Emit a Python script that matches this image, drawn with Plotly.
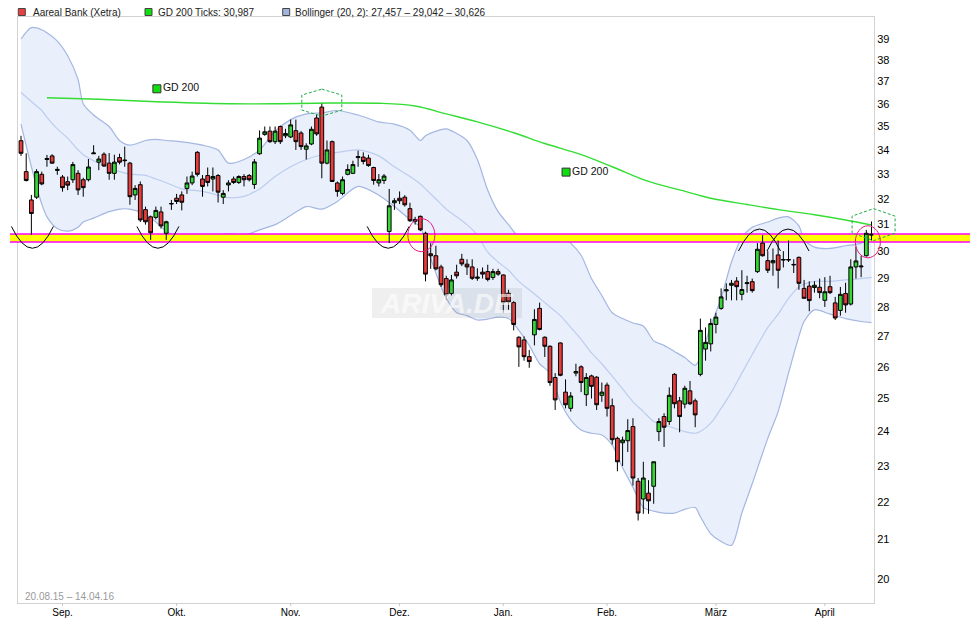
import numpy as np
import pandas as pd
import plotly.graph_objects as go

# ---------------- data ----------------
HOLIDAYS = ["2015-12-24", "2015-12-25", "2015-12-31", "2016-01-01", "2016-03-25", "2016-03-28"]
DATES = [d for d in pd.bdate_range("2015-08-20", "2016-04-14") if d.strftime("%Y-%m-%d") not in HOLIDAYS]

OPEN = [34.39, 33.10, 31.96, 32.07, 32.99, 33.60, 33.75, 33.15, 32.88, 32.69,
        32.77, 33.03, 32.77, 32.77, 33.84, 33.49, 33.82, 33.45, 33.03, 33.68,
        33.55, 33.45, 32.16, 32.57, 31.58, 31.30, 31.28, 31.49, 30.67, 31.80,
        32.03, 32.16, 32.42, 32.64, 33.90, 32.80, 32.94, 32.80, 32.94, 32.07,
        32.56, 32.80, 32.66, 32.90, 32.94, 32.58, 33.84, 34.66, 34.80, 34.35,
        35.00, 34.60, 34.55, 34.82, 34.72, 34.03, 34.25, 35.37, 35.85, 33.45,
        34.35, 32.64, 32.22, 32.99, 33.03, 33.68, 33.70, 33.66, 33.27, 32.64,
        32.74, 30.74, 31.85, 32.03, 32.07, 31.62, 31.13, 31.32, 30.67, 29.90,
        29.83, 29.42, 29.00, 28.47, 29.23, 29.70, 29.52, 29.42, 29.01, 29.23,
        29.25, 29.04, 29.25, 29.13, 28.48, 28.15, 26.97, 26.88, 26.33, 27.05,
        27.95, 26.97, 26.67, 25.66, 26.78, 25.20, 24.70, 25.80, 26.00, 25.12,
        25.71, 25.67, 25.10, 25.42, 24.78, 23.80, 23.67, 23.73, 24.15, 22.57,
        22.08, 22.24, 22.43, 24.00, 24.45, 24.30, 25.76, 24.93, 24.83, 25.24,
        24.93, 25.76, 26.58, 26.75, 27.40, 27.95, 28.56, 28.76, 28.91, 28.44,
        28.82, 28.89, 29.25, 30.30, 29.65, 29.57, 29.86, 29.67, 29.67, 29.49,
        29.77, 28.65, 28.73, 28.68, 28.69, 28.23, 28.71, 28.14, 27.88, 28.47,
        28.10, 29.42, 29.42, 29.83, 30.60]

HIGH = [34.60, 33.86, 32.16, 33.20, 33.10, 33.79, 33.82, 33.30, 32.96, 32.90,
        33.50, 33.16, 32.85, 33.62, 34.20, 33.75, 33.90, 33.87, 33.80, 33.84,
        34.14, 33.50, 32.55, 32.70, 31.70, 31.35, 31.70, 31.70, 31.15, 31.96,
        32.20, 32.30, 32.90, 33.10, 33.95, 32.96, 33.27, 33.27, 33.00, 32.35,
        32.75, 32.90, 32.95, 33.00, 33.00, 33.62, 34.83, 35.00, 35.00, 35.00,
        35.04, 34.90, 35.30, 35.30, 34.80, 34.28, 35.00, 35.50, 36.00, 34.40,
        34.40, 32.70, 32.90, 33.40, 33.55, 33.97, 33.90, 33.80, 33.30, 33.00,
        33.00, 32.40, 32.03, 32.30, 32.15, 31.85, 31.30, 31.35, 30.73, 30.30,
        30.20, 29.50, 29.10, 29.13, 29.50, 29.90, 29.70, 29.70, 29.37, 29.40,
        29.50, 29.35, 29.35, 29.15, 28.60, 28.20, 27.00, 27.00, 26.55, 27.92,
        28.15, 27.00, 26.70, 25.80, 26.80, 25.60, 25.20, 26.10, 26.05, 25.80,
        25.75, 25.70, 25.50, 25.50, 25.00, 23.85, 23.85, 24.37, 24.40, 22.66,
        23.12, 22.60, 23.12, 24.40, 24.55, 25.35, 25.80, 25.05, 25.40, 25.55,
        25.00, 27.60, 27.30, 27.60, 27.80, 28.65, 28.83, 28.95, 29.05, 29.30,
        29.10, 29.00, 30.30, 30.60, 30.00, 30.10, 30.40, 30.00, 30.40, 29.70,
        29.80, 28.95, 28.90, 28.90, 29.00, 29.05, 29.10, 28.35, 28.70, 28.85,
        29.70, 30.17, 29.83, 30.80, 31.12]

LOW = [33.75, 32.70, 30.61, 32.00, 32.55, 33.30, 33.42, 32.97, 32.29, 32.35,
       32.64, 32.16, 32.09, 32.70, 33.84, 33.16, 33.30, 32.77, 32.77, 33.40,
       33.30, 31.77, 31.96, 31.10, 31.00, 30.42, 31.20, 30.85, 30.42, 31.57,
       31.80, 31.55, 32.20, 32.55, 32.90, 32.09, 32.50, 32.30, 31.86, 31.80,
       32.30, 32.60, 32.60, 32.50, 32.70, 32.40, 33.80, 34.60, 34.30, 34.25,
       34.25, 34.50, 34.50, 34.00, 34.00, 33.60, 34.20, 34.60, 32.83, 33.40,
       32.70, 32.09, 32.15, 32.95, 33.00, 33.30, 33.40, 33.30, 32.57, 32.50,
       32.60, 30.30, 31.57, 31.80, 31.70, 31.10, 31.00, 30.75, 28.90, 29.35,
       29.30, 28.70, 28.24, 28.40, 29.00, 29.45, 29.13, 28.95, 28.92, 29.00,
       28.90, 28.95, 29.10, 27.80, 27.90, 27.20, 26.00, 26.20, 25.97, 26.70,
       27.20, 26.32, 25.40, 24.65, 25.70, 24.70, 24.60, 25.70, 25.20, 24.77,
       25.00, 24.65, 24.90, 24.45, 23.62, 22.85, 23.00, 23.40, 22.45, 21.50,
       21.68, 21.68, 21.95, 23.72, 23.55, 24.20, 24.70, 23.98, 24.70, 24.80,
       24.13, 25.70, 26.20, 26.50, 27.10, 27.90, 28.23, 28.23, 28.23, 28.23,
       28.50, 28.50, 29.20, 29.80, 29.20, 29.10, 28.65, 29.40, 29.60, 29.20,
       28.60, 28.30, 27.85, 28.50, 28.30, 28.00, 28.45, 27.55, 27.70, 27.80,
       28.05, 29.00, 29.05, 29.80, 30.40]

CLOSE = [33.86, 32.74, 31.43, 33.10, 32.60, 33.64, 33.45, 33.19, 32.45, 32.55,
         33.39, 32.36, 32.45, 33.29, 33.87, 33.62, 33.33, 33.03, 33.49, 33.49,
         33.57, 32.09, 32.42, 31.18, 31.11, 30.69, 31.55, 30.95, 31.11, 31.82,
         31.90, 31.87, 32.64, 32.92, 32.99, 32.50, 32.66, 32.90, 32.27, 32.22,
         32.64, 32.66, 32.90, 32.77, 32.77, 33.50, 34.50, 34.77, 34.35, 34.80,
         34.35, 34.70, 35.07, 34.35, 34.14, 34.17, 34.88, 34.68, 33.45, 34.00,
         32.70, 32.30, 32.77, 33.19, 33.39, 33.72, 33.52, 33.35, 32.74, 32.77,
         32.92, 31.73, 31.93, 31.93, 31.77, 31.15, 31.20, 30.80, 29.16, 29.83,
         29.35, 28.78, 28.42, 28.95, 29.10, 29.53, 29.42, 29.01, 29.05, 29.16,
         28.97, 29.25, 29.16, 28.15, 28.17, 27.40, 26.65, 26.33, 26.17, 27.57,
         27.23, 26.67, 25.50, 24.96, 25.73, 24.81, 25.08, 25.85, 25.50, 25.66,
         25.38, 24.81, 25.20, 24.70, 23.76, 23.12, 23.75, 24.03, 22.66, 21.70,
         22.66, 22.03, 23.12, 24.30, 24.13, 25.10, 24.84, 24.45, 25.32, 24.84,
         24.50, 27.20, 26.80, 27.43, 27.65, 28.35, 28.60, 28.83, 28.71, 28.61,
         28.85, 28.57, 30.07, 29.83, 29.30, 29.65, 29.30, 29.69, 29.69, 29.51,
         28.83, 28.30, 28.22, 28.76, 28.50, 28.53, 28.50, 27.62, 28.44, 28.07,
         29.42, 29.64, 29.45, 30.67, 30.63]

# Bollinger (20,2) read at sample trading-day positions
BB_IDX = [0, 2, 4, 5, 7, 9, 11, 12, 14, 17, 19, 21, 24, 26, 28, 31, 35, 38, 40, 43,
          46, 49, 52, 55, 58, 61, 65, 69, 72, 75, 77, 78, 80, 82, 84, 86, 88, 90, 92, 94,
          96, 98, 100, 102, 104, 106, 108, 110, 112, 114, 116, 118, 120, 122, 124, 126, 128, 130, 131, 133,
          135, 137, 139, 141, 144, 146, 148, 150, 151, 153, 156, 159, 162, 164]
BB_UP = [39.00, 39.55, 39.45, 39.30, 38.90, 38.20, 37.10, 36.00, 35.50, 35.00, 34.40, 34.20, 34.40, 34.45, 34.40, 34.34, 34.20, 34.00, 33.45, 33.60,
         34.00, 34.80, 35.30, 35.55, 35.60, 35.70, 35.50, 35.20, 35.10, 34.84, 34.40, 34.60, 34.80, 34.90, 34.70, 34.40, 33.60, 32.35, 31.50, 31.00,
         30.55, 30.60, 30.55, 30.60, 30.60, 30.30, 29.85, 29.00, 28.40, 27.80, 27.60, 27.45, 27.35, 26.85, 26.70, 26.50, 26.30, 26.05, 26.30, 27.35,
         28.30, 29.60, 30.50, 30.90, 31.10, 31.25, 31.30, 30.95, 30.45, 30.15, 30.10, 30.20, 30.30, 30.63]
BB_MID = [36.50, 36.10, 35.70, 35.40, 34.90, 34.50, 34.00, 33.80, 33.55, 33.25, 33.10, 33.00, 32.95, 32.80, 32.65, 32.40, 32.30, 32.15, 32.05, 32.10,
          32.40, 32.90, 33.30, 33.60, 33.80, 33.90, 34.00, 33.75, 33.30, 32.90, 32.60, 32.40, 32.00, 31.60, 31.30, 31.00, 30.60, 29.96, 29.60, 29.30,
          28.90, 28.60, 28.30, 28.00, 27.70, 27.30, 26.90, 26.45, 26.10, 25.70, 25.30, 24.90, 24.60, 24.30, 24.20, 24.10, 24.00, 23.95, 24.00, 24.25,
          24.70, 25.20, 25.80, 26.40, 27.30, 27.75, 28.30, 28.70, 28.80, 28.90, 28.90, 28.95, 29.00, 29.04]
BB_LOW = [35.10, 33.30, 31.80, 31.30, 30.85, 30.75, 30.90, 31.10, 31.25, 31.50, 31.60, 31.60, 31.40, 31.10, 30.75, 30.45, 30.50, 30.60, 30.65, 30.60,
          30.80, 31.00, 31.35, 31.70, 31.60, 31.90, 32.50, 32.15, 31.70, 31.20, 30.90, 30.30, 29.20, 28.30, 27.80, 27.70, 27.55, 27.58, 27.65, 27.60,
          27.20, 26.70, 26.10, 25.80, 24.90, 24.35, 24.05, 23.95, 23.90, 23.60, 22.95, 22.40, 21.85, 21.75, 21.70, 21.70, 21.80, 21.85, 21.60, 21.15,
          20.95, 20.85, 21.70, 22.50, 23.80, 24.60, 25.80, 27.00, 27.50, 27.90, 27.75, 27.60, 27.50, 27.46]

# GD 200 read at sample positions
GD_IDX = [5, 15, 25, 40, 50, 60, 69, 76, 82, 88, 95, 101, 108, 114, 121, 127, 133, 140, 146, 153, 159, 164]
GD_VAL = [36.27, 36.20, 36.10, 36.00, 36.00, 36.03, 36.02, 35.90, 35.55, 35.20, 34.73, 34.27, 33.80, 33.30,
          32.70, 32.36, 32.03, 31.78, 31.58, 31.38, 31.18, 30.99]

# support zone and drawing marks
ZONE_LO, ZONE_HI = 30.34, 30.64
ZONE_MID = 30.49
CUP_IDX = [2.2, 26.4, 70.8]
CAP_IDX = [142.4, 147.9]
HEX_POS = [(58.0, 36.05, 20, 13.5, 7.5), (164.4, 31.0, 21.5, 16, 8.5)]
CIRCLE_POS = [(77.2, 30.6, 13.5, 16.5), (163.3, 30.35, 12.5, 16)]
GD_LABELS = [(26.2, 36.67), (105.1, 33.08)]

MONTHS = ["Sep.", "Okt.", "Nov.", "Dez.", "Jan.", "Feb.", "März", "April"]
Y_TICKS = list(range(20, 40))

LEGEND = ["Aareal Bank (Xetra)", "GD 200 Ticks: 30,987",
          "Bollinger (20, 2): 27,457 \u2013 29,042 \u2013 30,626"]
DATE_RANGE = "20.08.15 \u2013 14.04.16"

# ---------------- layout constants ----------------
# the page body has an 8px margin; the figure is sized to fit the 978x623 window
OFF = 8
W, H = 978 - OFF, 623 - OFF
PL, PR, PT, PB = 18, 874, 17, 603          # plot area in window pixels
ML, MT = PL - OFF, PT - OFF
MR, MB = W - (PR - OFF), H - (PB - OFF)
PW, PH = PR - PL, PB - PT
XMIN, XMAX = -0.58, 164.48
YR = [1.28814, 1.60288]
FONT = "Liberation Sans, Arial, sans-serif"

RED, GREEN = "#e83c3c", "#36d636"
BAND_FILL, BAND_EDGE, BAND_MID = "#e9effb", "#a3b7e2", "#bccdf0"
GD_COL = "#33dd33"

x_idx = np.arange(len(DATES))
tick_idx = [i for i in range(1, len(DATES)) if DATES[i].month != DATES[i - 1].month]


def xp(i):
    return (i - XMIN) / (XMAX - XMIN)


def pxx(px):
    return (px - PL) / PW


def pxy(py):
    return (PB - py) / PH


def ellipse_path(rx, ry):
    k = 0.5523
    return (f"M {rx},0 C {rx},{k*ry} {k*rx},{ry} 0,{ry} C {-k*rx},{ry} {-rx},{k*ry} {-rx},0 "
            f"C {-rx},{-k*ry} {-k*rx},{-ry} 0,{-ry} C {k*rx},{-ry} {rx},{-k*ry} {rx},0 Z")


fig = go.Figure()

# Bollinger band
spl = dict(shape="spline", smoothing=0.8)
fig.add_trace(go.Scatter(x=BB_IDX, y=BB_LOW, mode="lines", line=dict(color=BAND_EDGE, width=1.2, **spl),
                         hoverinfo="skip", showlegend=False))
fig.add_trace(go.Scatter(x=BB_IDX, y=BB_UP, mode="lines", fill="tonexty", fillcolor=BAND_FILL,
                         line=dict(color=BAND_EDGE, width=1.2, **spl), hoverinfo="skip", showlegend=False))
fig.add_trace(go.Scatter(x=BB_IDX, y=BB_MID, mode="lines", line=dict(color=BAND_MID, width=1.2, **spl),
                         hoverinfo="skip", showlegend=False))

# support zone inside plot
fig.add_trace(go.Scatter(x=[XMIN - 2, XMAX + 2], y=[ZONE_LO, ZONE_LO], mode="lines",
                         line=dict(color="#ff00ff", width=1.5), hoverinfo="skip", showlegend=False))
fig.add_trace(go.Scatter(x=[XMIN - 2, XMAX + 2], y=[ZONE_HI, ZONE_HI], mode="lines", fill="tonexty",
                         fillcolor="#ffff00", line=dict(color="#ff00ff", width=1.5), hoverinfo="skip", showlegend=False))

# GD 200
fig.add_trace(go.Scatter(x=GD_IDX, y=GD_VAL, mode="lines", line=dict(color=GD_COL, width=1.4, shape="spline"),
                         hoverinfo="skip", showlegend=False))

# GD 200 labels
fig.add_trace(go.Scatter(x=[p[0] for p in GD_LABELS], y=[p[1] for p in GD_LABELS], mode="markers+text",
                         marker=dict(symbol="square", size=8, color="#11dd11", line=dict(color="#333333", width=1)),
                         text=["GD 200"] * len(GD_LABELS), textposition="middle right",
                         textfont=dict(family=FONT, size=10.5, color="#111111"), hoverinfo="skip", showlegend=False))

# candles on an overlay subplot so they sit above the band fill
fig.add_trace(go.Candlestick(x=x_idx, open=OPEN, high=HIGH, low=LOW, close=CLOSE,
                             xaxis="x2", yaxis="y2",
                             increasing=dict(fillcolor=GREEN, line=dict(color="#000000", width=1)),
                             decreasing=dict(fillcolor=RED, line=dict(color="#000000", width=1)),
                             whiskerwidth=0, showlegend=False,
                             text=[d.strftime("%d.%m.%Y") for d in DATES]))

shapes = []
# month tick marks below the axis
for ti in tick_idx:
    shapes.append(dict(type="line", xref="paper", yref="paper", x0=xp(ti), x1=xp(ti), y0=0, y1=pxy(606),
                       line=dict(color="#c8c8c8", width=1), layer="above"))

# zone extensions outside the plot area
for (x0, x1) in [(pxx(10), 0.0005), (0.9995, pxx(978))]:
    shapes.append(dict(type="rect", xref="paper", yref="y", x0=x0, x1=x1, y0=ZONE_LO, y1=ZONE_HI,
                       fillcolor="#ffff00", line=dict(width=0), layer="above"))
    for yv in (ZONE_LO, ZONE_HI):
        shapes.append(dict(type="line", xref="paper", yref="y", x0=x0, x1=x1, y0=yv, y1=yv,
                           line=dict(color="#ff00ff", width=1.5), layer="above"))

# cups and caps
for ci in CUP_IDX:
    shapes.append(dict(type="path", xref="paper", yref="y", xsizemode="pixel", ysizemode="pixel",
                       xanchor=xp(ci), yanchor=ZONE_MID, path="M -21,11.6 Q 0,-32 21,11.6",
                       line=dict(color="#000000", width=1), layer="above"))
for ci in CAP_IDX:
    shapes.append(dict(type="path", xref="paper", yref="y", xsizemode="pixel", ysizemode="pixel",
                       xanchor=xp(ci), yanchor=ZONE_MID, path="M -21,-13 Q 0,31 21,-13",
                       line=dict(color="#000000", width=1), layer="above"))

# hexagons
for (hi, hv, hw, hh, hs) in HEX_POS:
    path = f"M 0,{hh} L {hw},{hs} L {hw},{-hs} L 0,{-hh} L {-hw},{-hs} L {-hw},{hs} Z"
    shapes.append(dict(type="path", xref="paper", yref="y", xsizemode="pixel", ysizemode="pixel",
                       xanchor=xp(hi), yanchor=hv, path=path,
                       line=dict(color="#22aa44", width=1, dash="3px,2px"), layer="above"))

# circles (ellipses)
for (ci, cv, rx, ry) in CIRCLE_POS:
    shapes.append(dict(type="path", xref="paper", yref="y", xsizemode="pixel", ysizemode="pixel",
                       xanchor=xp(ci), yanchor=cv, path=ellipse_path(rx, ry),
                       line=dict(color="#e6197d", width=1), layer="above"))

# watermark box
shapes.append(dict(type="rect", xref="paper", yref="paper", x0=pxx(372), x1=pxx(522), y0=pxy(318), y1=pxy(288),
                   fillcolor="rgba(120,120,120,0.12)", line=dict(width=0), layer="above"))

# legend squares
LEG_SQ = [(18.3, "#e84040"), (145.0, "#11dd11"), (282.7, "#a3b4dc")]
LEG_TX = [31.7, 157.3, 294.3]
for (sx, col) in LEG_SQ:
    shapes.append(dict(type="rect", xref="paper", yref="paper", x0=pxx(sx), x1=pxx(sx + 7), y0=pxy(15.5), y1=pxy(8.5),
                       fillcolor=col, line=dict(color="#444444", width=1), layer="above"))

annotations = []
for tx, label in zip(LEG_TX, LEGEND):
    annotations.append(dict(xref="paper", yref="paper", x=pxx(tx), y=pxy(12.6), text=label, showarrow=False,
                            xanchor="left", yanchor="middle", borderpad=0,
                            font=dict(family=FONT, size=10, color="#222222")))
annotations.append(dict(xref="paper", yref="paper", x=pxx(23), y=pxy(596.7), text=DATE_RANGE, showarrow=False,
                        xanchor="left", yanchor="middle", font=dict(family=FONT, size=10, color="#9a9a9a")))
annotations.append(dict(xref="paper", yref="paper", x=pxx(447), y=pxy(303), text="<b><i>ARIVA.DE</i></b>",
                        showarrow=False, xanchor="center", yanchor="middle",
                        font=dict(family=FONT, size=28, color="rgba(255,255,255,0.6)")))

fig.update_layout(
    width=W, height=H,
    margin=dict(l=ML, r=MR, t=MT, b=MB, pad=0),
    paper_bgcolor="#ffffff", plot_bgcolor="#ffffff",
    showlegend=False,
    boxgap=0.15, boxgroupgap=0.15,
    font=dict(family=FONT, size=11, color="#000000"),
    xaxis=dict(range=[XMIN, XMAX], showgrid=False, zeroline=False, showline=True, linecolor="#d2d2d2",
               linewidth=1, mirror=True, tickmode="array", tickvals=tick_idx, ticktext=MONTHS,
               ticks="", tickfont=dict(size=10, color="#000000"),
               automargin=False, rangeslider=dict(visible=False), fixedrange=True),
    yaxis=dict(type="log", range=YR, side="right", showgrid=False, zeroline=False, showline=True,
               linecolor="#d2d2d2", linewidth=1, mirror=True, tickmode="array", tickvals=Y_TICKS,
               ticktext=[str(v) for v in Y_TICKS], ticks="", tickfont=dict(size=11, color="#000000"),
               automargin=False, fixedrange=True),
    xaxis2=dict(range=[XMIN, XMAX], overlaying="x", visible=False, rangeslider=dict(visible=False), fixedrange=True),
    yaxis2=dict(type="log", range=YR, overlaying="y", visible=False, fixedrange=True),
    shapes=shapes, annotations=annotations,
)

fig.write_html("out.html")
